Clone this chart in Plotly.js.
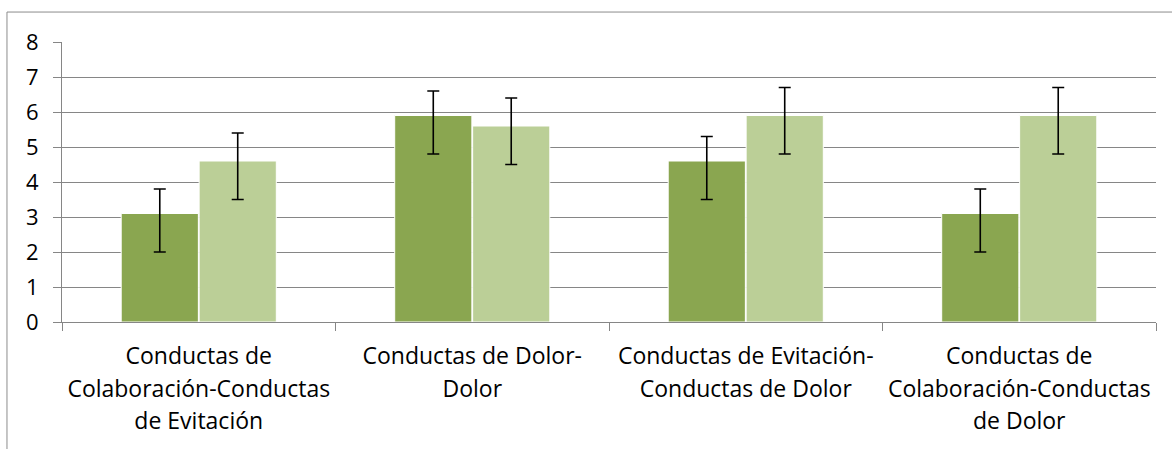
<!DOCTYPE html>
<html>
<head>
<meta charset="utf-8">
<script src="https://cdn.plot.ly/plotly-3.0.1.min.js"></script>
<style>html,body{margin:0;padding:0;background:#fff;}#chart{width:1172px;height:449px;}</style>
</head>
<body>
<div id="chart"></div>
<script>
const categories = [
  "Conductas de|Colaboración-Conductas|de Evitación",
  "Conductas de Dolor-|Dolor",
  "Conductas de Evitación-|Conductas de Dolor",
  "Conductas de|Colaboración-Conductas|de Dolor"
];
const seriesA = [3.1, 5.9, 4.6, 3.1];
const seriesAPlus = [0.7, 0.7, 0.7, 0.7];
const seriesAMinus = [1.1, 1.1, 1.1, 1.1];
const seriesB = [4.6, 5.6, 5.9, 5.9];
const seriesBPlus = [0.8, 0.8, 0.8, 0.8];
const seriesBMinus = [1.1, 1.1, 1.1, 1.1];
const yTicks = [0, 1, 2, 3, 4, 5, 6, 7, 8];

const tickText = categories.map(c => c.split("|").map(l => '<span style="font-size:23px">' + l + '</span>').join("<br>"));

const errStyle = {color: "#000000", thickness: 1.6, width: 6};
const traces = [
  {
    type: "bar", x: categories, y: seriesA, name: "A",
    marker: {color: "#8AA650", line: {color: "#ffffff", width: 1}},
    error_y: Object.assign({type: "data", symmetric: false, array: seriesAPlus, arrayminus: seriesAMinus}, errStyle)
  },
  {
    type: "bar", x: categories, y: seriesB, name: "B",
    marker: {color: "#BBCF97", line: {color: "#ffffff", width: 1}},
    error_y: Object.assign({type: "data", symmetric: false, array: seriesBPlus, arrayminus: seriesBMinus}, errStyle)
  }
];

const layout = {
  width: 1172, height: 449,
  margin: {l: 62, r: 16, t: 42, b: 127, pad: 0},
  paper_bgcolor: "#ffffff", plot_bgcolor: "#ffffff",
  showlegend: false,
  barmode: "group", bargap: 0.43, bargroupgap: 0.01,
  font: {family: "Open Sans, sans-serif", color: "#000000"},
  xaxis: {
    type: "category",
    tickmode: "array", tickvals: categories, ticktext: tickText,
    tickfont: {size: 25, color: "#000000"},
    showline: true, linecolor: "#868686", linewidth: 1,
    ticks: "outside", ticklen: 8, tickcolor: "#868686", tickson: "boundaries",
    showgrid: false, zeroline: false, fixedrange: true, ticklabelstandoff: 11
  },
  yaxis: {
    range: [0, 8], tickmode: "array", tickvals: yTicks,
    tickfont: {size: 22, color: "#000000"},
    showline: true, linecolor: "#868686", linewidth: 1,
    ticks: "outside", ticklen: 8, tickcolor: "#868686",
    showgrid: true, gridcolor: "#868686", gridwidth: 1,
    zeroline: false, ticklabelstandoff: 10, fixedrange: true
  },
  shapes: [{
    type: "rect", xref: "paper", yref: "paper",
    x0: -0.0503, x1: 1.2, y0: -0.7, y1: 1.107,
    line: {color: "#8c8c8c", width: 1}, fillcolor: "rgba(0,0,0,0)", layer: "below"
  }]
};

Plotly.newPlot("chart", traces, layout, {displayModeBar: false, staticPlot: true});
</script>
</body>
</html>
